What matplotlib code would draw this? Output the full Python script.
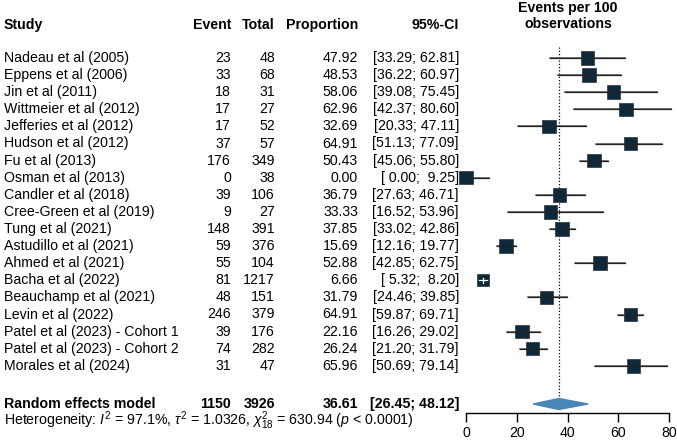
import matplotlib.pyplot as plt
import matplotlib.patches as mpatches

plt.rcParams['font.family'] = 'Liberation Sans'
plt.rcParams['mathtext.fontset'] = 'custom'
plt.rcParams['mathtext.rm'] = 'Liberation Sans'
plt.rcParams['mathtext.it'] = 'Liberation Sans:italic'

# dados do forest plot
studies = ["Nadeau et al (2005)", "Eppens et al (2006)", "Jin et al (2011)",
           "Wittmeier et al (2012)", "Jefferies et al (2012)", "Hudson et al (2012)",
           "Fu et al (2013)", "Osman et al (2013)", "Candler et al (2018)",
           "Cree-Green et al (2019)", "Tung et al (2021)", "Astudillo et al (2021)",
           "Ahmed et al (2021)", "Bacha et al (2022)", "Beauchamp et al (2021)",
           "Levin et al (2022)", "Patel et al (2023) - Cohort 1",
           "Patel et al (2023) - Cohort 2", "Morales et al (2024)"]
events = [23, 33, 18, 17, 17, 37, 176, 0, 39, 9, 148, 59, 55, 81, 48, 246, 39, 74, 31]
totals = [48, 68, 31, 27, 52, 57, 349, 38, 106, 27, 391, 376, 104, 1217, 151, 379, 176, 282, 47]
prop = [47.92, 48.53, 58.06, 62.96, 32.69, 64.91, 50.43, 0.00, 36.79, 33.33,
        37.85, 15.69, 52.88, 6.66, 31.79, 64.91, 22.16, 26.24, 65.96]
lower = [33.29, 36.22, 39.08, 42.37, 20.33, 51.13, 45.06, 0.00, 27.63, 16.52,
         33.02, 12.16, 42.85, 5.32, 24.46, 59.87, 16.26, 21.20, 50.69]
upper = [62.81, 60.97, 75.45, 80.60, 47.11, 77.09, 55.80, 9.25, 46.71, 53.96,
         42.86, 19.77, 62.75, 8.20, 39.85, 69.71, 29.02, 31.79, 79.14]

pooled = 36.61
pooled_lo = 26.45
pooled_hi = 48.12
pooled_event = 1150
pooled_total = 3926
ticks = [0, 20, 40, 60, 80]

W, H = 677, 446
fig = plt.figure(figsize=(W / 100, H / 100), dpi=100)

# camada de texto em coordenadas de pixel
tx = fig.add_axes([0, 0, 1, 1])
tx.set_xlim(0, W)
tx.set_ylim(H, 0)
tx.axis("off")

y0 = 58
dy = 17.1
rows = [y0 + i * dy for i in range(len(studies))]
y_pool = 404
fs = 10.2

def ci_txt(lo, hi):
    a = "%.2f" % lo
    b = "%.2f" % hi
    if lo < 10:
        a = " " + a
    if hi < 10:
        b = " " + b
    return "[%s; %s]" % (a, b)

hy = 25
tx.text(4, hy, "Study", fontsize=fs, fontweight="bold", va="center")
tx.text(231, hy, "Event", fontsize=fs, fontweight="bold", va="center", ha="right")
tx.text(275, hy, "Total", fontsize=fs, fontweight="bold", va="center", ha="right")
tx.text(358, hy, "Proportion", fontsize=fs, fontweight="bold", va="center", ha="right")
tx.text(459, hy, "95%-CI", fontsize=fs, fontweight="bold", va="center", ha="right")
tx.text(568, 16, "Events per 100\nobservations", fontsize=fs, fontweight="bold",
        va="center", ha="center", linespacing=1.15)

for i, y in enumerate(rows):
    tx.text(4, y, studies[i], fontsize=fs, va="center")
    tx.text(231, y, str(events[i]), fontsize=fs, va="center", ha="right")
    tx.text(275, y, str(totals[i]), fontsize=fs, va="center", ha="right")
    tx.text(358, y, "%.2f" % prop[i], fontsize=fs, va="center", ha="right")
    tx.text(459, y, ci_txt(lower[i], upper[i]), fontsize=fs, va="center", ha="right")

tx.text(4, y_pool, "Random effects model", fontsize=fs, fontweight="bold", va="center")
tx.text(231, y_pool, str(pooled_event), fontsize=fs, fontweight="bold", va="center", ha="right")
tx.text(275, y_pool, str(pooled_total), fontsize=fs, fontweight="bold", va="center", ha="right")
tx.text(358, y_pool, "%.2f" % pooled, fontsize=fs, fontweight="bold", va="center", ha="right")
tx.text(459, y_pool, ci_txt(pooled_lo, pooled_hi), fontsize=fs, fontweight="bold",
        va="center", ha="right")
tx.text(4, 420.5, r"Heterogeneity: $I^2$ = 97.1%, $\tau^2$ = 1.0326, $\chi^2_{18}$ = 630.94 ($p$ < 0.0001)",
        fontsize=fs, va="center")

# painel do forest plot
axis_y = 413
ax = fig.add_axes([466 / W, (H - axis_y) / H, 203 / W, axis_y / H])
ax.set_xlim(0, 80)
ax.set_ylim(axis_y, 0)
ax.patch.set_visible(False)
for s in ["top", "right", "left"]:
    ax.spines[s].set_visible(False)
ax.spines["bottom"].set_linewidth(1)
ax.set_yticks([])
ax.set_xticks(ticks)
ax.tick_params(axis="x", length=6.5, width=1, labelsize=fs, pad=3)

ax.plot([pooled, pooled], [47, 398], color="k", linestyle=(0, (1, 1.6)), linewidth=0.9)

box = 13.5  # lado do quadrado em pixels
xs = 80 / 203.0
for i, y in enumerate(rows):
    ax.plot([lower[i], upper[i]], [y, y], color="#555555", linewidth=1.1,
            clip_on=False, zorder=2)
    side = box if i != 13 else 12
    ax.add_patch(mpatches.Rectangle((prop[i] - side * xs / 2, y - side / 2), side * xs, side,
                                    facecolor="#0c2a3e", edgecolor="#404040", linewidth=0.6,
                                    clip_on=False, zorder=3))
    c = "white" if i == 13 else "#222222"
    ax.plot([lower[i], upper[i]], [y, y], color=c, linewidth=0.9, clip_on=False, zorder=4)
    ax.plot([prop[i], prop[i]], [y - 2.5, y + 2.5], color=c, linewidth=0.9,
            clip_on=False, zorder=4)

dia = mpatches.Polygon([[pooled_lo, y_pool], [pooled, y_pool - 5.5],
                        [pooled_hi, y_pool], [pooled, y_pool + 5.5]],
                       closed=True, facecolor="#4a86b6", edgecolor="#4a86b6", zorder=3)
ax.add_patch(dia)

plt.savefig("out.png", dpi=100)
